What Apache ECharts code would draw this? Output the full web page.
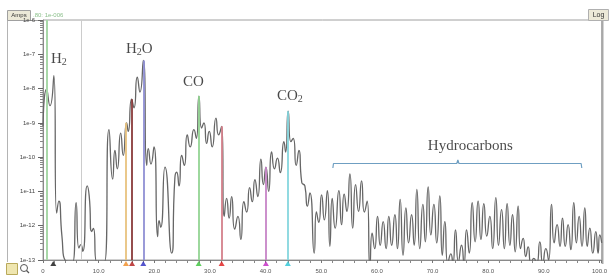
<!DOCTYPE html>
<html>
<head>
<meta charset="utf-8">
<script src="https://cdn.jsdelivr.net/npm/echarts@6/dist/echarts.min.js"></script>
<style>
  html, body { margin: 0; padding: 0; background: #fff; }
  #chart { width: 610px; height: 275px; }
</style>
</head>
<body>
<div id="chart"></div>
<script>
// scan: mass (amu) and log10 of ion current (A)
var scanMass = [
  0, 0.65, 1.25, 1.95, 2.45, 2.85, 3.4, 3.95, 5.35, 5.95, 6.45, 6.8, 7.15, 7.95, 8.3, 8.75, 9.05, 9.65, 11.05, 11.86,
  12.52, 12.93, 13.35, 13.96, 14.42, 15.03, 15.32, 15.93, 16.35, 16.94, 17.42, 18.02, 18.63, 18.92, 19.4, 19.94, 20.6, 20.85, 21.15, 21.92,
  23.12, 23.7, 24.02, 24.45, 24.92, 25.4, 25.92, 26.45, 27.12, 27.55, 28.02, 28.5, 28.92, 29.4, 29.87, 30.4, 31.08, 31.55, 32.1, 32.57,
  33.0, 33.45, 33.9, 34.45, 35.03, 35.55, 36.1, 36.6, 37.13, 37.6, 38.08, 38.6, 39.16, 39.6, 40.06, 40.55, 41.08, 41.6, 42.12, 42.65,
  43.29, 43.6, 44.06, 44.55, 44.96, 45.5, 45.99, 46.5, 47.06, 47.5, 47.96, 48.73, 49.13, 49.55, 50.06, 50.55, 51.1, 51.55, 51.97, 52.5,
  53.17, 53.65, 54.12, 54.6, 55.15, 55.65, 56.17, 56.7, 57.25, 57.75, 58.25, 58.74, 59.15, 59.6, 60.12, 60.6, 61.13, 61.65, 62.15, 62.65,
  63.23, 63.7, 64.18, 64.7, 65.21, 65.7, 66.23, 66.7, 67.18, 67.7, 68.26, 68.7, 69.21, 69.7, 70.24, 70.75, 71.31, 71.75, 72.21, 72.75,
  73.29, 73.65, 74.13, 74.65, 75.21, 75.65, 76.11, 76.6, 77.12, 77.65, 78.19, 78.7, 79.22, 79.75, 80.29, 80.8, 81.37, 81.85, 82.4, 82.9,
  83.4, 83.9, 84.37, 84.85, 85.38, 85.8, 86.28, 86.75, 87.18, 87.7, 88.2, 88.7, 89.28, 89.8, 90.36, 90.85, 91.38, 91.85, 92.38, 92.9,
  93.35, 93.85, 94.36, 94.85, 95.38, 95.85, 96.34, 96.85, 97.36, 97.8, 98.26, 98.8, 99.34, 99.75, 100.05, 100.4
];
var scanExp = [
  -9.1, -8.02, -8.5, -7.62, -11.63, -11.28, -12.3, -13.0, -13.05, -11.33, -12.65, -12.55, -12.75, -10.84, -11.13, -12.17, -12.08, -13.05, -13.05, -9.2,
  -10.64, -9.8, -10.34, -9.3, -9.95, -9.0, -9.25, -8.31, -8.56, -7.67, -8.1, -7.18, -10.24, -9.75, -10.2, -9.7, -12.32, -11.85, -12.05, -10.29,
  -12.8, -10.6, -10.44, -10.84, -9.95, -10.24, -9.35, -9.7, -9.2, -9.45, -8.22, -9.15, -9.0, -9.6, -9.25, -9.7, -8.86, -9.35, -9.1, -11.73,
  -11.2, -11.78, -11.15, -12.1, -11.73, -12.4, -11.3, -11.6, -10.89, -11.3, -10.66, -11.15, -10.06, -10.8, -10.29, -11.0, -9.85, -10.34, -10.03, -10.45,
  -9.55, -9.85, -8.66, -9.55, -9.45, -10.24, -9.8, -10.74, -10.84, -11.43, -11.04, -12.8, -11.6, -11.9, -11.1, -11.83, -10.98, -12.6, -11.2, -12.07,
  -10.98, -11.97, -11.08, -11.58, -10.49, -12.07, -10.8, -11.58, -10.69, -11.6, -11.28, -13.2, -12.22, -12.67, -11.73, -12.57, -11.88, -12.67, -11.73, -12.57,
  -11.68, -12.67, -11.23, -12.86, -11.48, -12.5, -11.68, -12.57, -10.94, -12.67, -11.38, -12.47, -10.87, -12.27, -11.38, -12.5, -11.13, -12.86, -11.88, -13.1,
  -12.82, -13.1, -12.12, -13.05, -12.57, -13.1, -12.12, -12.8, -11.33, -12.47, -11.28, -12.4, -11.36, -12.3, -11.73, -12.67, -11.18, -12.57, -11.53, -12.67,
  -11.36, -12.57, -11.68, -12.76, -11.43, -12.67, -12.37, -12.9, -12.62, -13.1, -12.95, -13.1, -12.47, -13.1, -12.67, -13.0, -11.38, -12.5, -11.97, -12.6,
  -11.78, -12.6, -11.97, -12.7, -11.33, -12.5, -11.73, -12.6, -11.48, -12.6, -12.07, -12.8, -12.17, -12.8, -12.27, -12.5
];

// tracked masses: drop line from the peak to the axis + triangle marker
var markerMass = [14.91, 16.0, 18.02, 27.97, 32.1, 40.06, 44.0];
var markerExp = [-9.0, -8.31, -7.18, -8.22, -9.1, -10.29, -8.66];
var markerLine = ["#e8c27e", "#8a3a3a", "#9090d4", "#93d493", "#d4808b", "#c784c7", "#86d6de"];
var markerTri = ["#f08a20", "#b01818", "#2a2ac0", "#36c236", "#e01818", "#c024c0", "#28c4d4"];

// peak names
var nameText = ["{m|H}{s|2}", "{m|H}{s|2}{m|O}", "CO", "{m|CO}{s|2}", "Hydrocarbons"];
var nameMass = [1.44, 14.91, 25.15, 42.03, 69.16];
var nameExp = [-7.14, -6.85, -7.81, -8.22, -9.675];

var xTickStep = 10;
var axisMinExp = -13;
var axisMaxExp = -6;

var chart = echarts.init(document.getElementById("chart"), null, { renderer: "canvas" });

var serif = "'Liberation Serif', 'Times New Roman', serif";
var sans = "'Liberation Sans', Arial, sans-serif";
var bottom = Math.pow(10, axisMinExp);

var scanData = scanMass.map(function(m, i) {
  return [m, Math.pow(10, scanExp[i])];
});

var dropLines = markerMass.map(function(m, i) {
  return [
    { coord: [m, bottom], lineStyle: { color: markerLine[i], width: 1.8, type: "solid" } },
    { coord: [m, Math.pow(10, markerExp[i])] }
  ];
});
// cursor lines spanning the full height
dropLines.push([
  { coord: [0.72, bottom], lineStyle: { color: "#a8d8a8", width: 2, type: "solid" } },
  { coord: [0.72, Math.pow(10, axisMaxExp)] }
]);
dropLines.push([
  { coord: [6.83, bottom], lineStyle: { color: "#cccccc", width: 1, type: "solid" } },
  { coord: [6.83, Math.pow(10, axisMaxExp)] }
]);

var triData = markerMass.map(function(m, i) {
  return { value: [m, bottom], itemStyle: { color: markerTri[i] } };
});
triData.push({ value: [1.85, bottom], itemStyle: { color: "#111" } });

var nameData = nameMass.map(function(m, i) {
  return { value: [m, Math.pow(10, nameExp[i])], label: { formatter: nameText[i] } };
});

// hydrocarbons bracket
var bracketMass = [52.09, 52.2, 74.35, 74.55, 74.75, 96.7, 96.82];
var bracketExp = [-10.316, -10.185, -10.185, -10.083, -10.185, -10.185, -10.316];
var bracketData = bracketMass.map(function(m, i) {
  return [m, Math.pow(10, bracketExp[i])];
});

var option = {
  animation: false,
  grid: {
    left: 43,
    right: 8,
    top: 20,
    bottom: 15,
    show: true,
    borderColor: "#a0a0a0",
    borderWidth: 1
  },
  xAxis: {
    type: "value",
    min: 0,
    max: 100.4,
    interval: xTickStep,
    axisLine: { lineStyle: { color: "#8a8a8a", width: 1 } },
    axisTick: { length: 3, lineStyle: { color: "#777" } },
    minorTick: { show: true, splitNumber: 5, length: 3, lineStyle: { color: "#888" } },
    splitLine: { show: false },
    axisLabel: {
      fontSize: 6,
      fontFamily: sans,
      color: "#555",
      margin: 8,
      showMaxLabel: false,
      formatter: function(v) {
        return v === 0 ? "0" : v.toFixed(1);
      }
    }
  },
  yAxis: {
    type: "log",
    logBase: 10,
    min: Math.pow(10, axisMinExp),
    max: Math.pow(10, axisMaxExp),
    splitNumber: 7,
    axisLine: { show: true, lineStyle: { color: "#8a8a8a", width: 1 } },
    axisTick: { show: true, length: 5, lineStyle: { color: "#666" } },
    minorTick: { show: true, splitNumber: 9, length: 3, lineStyle: { color: "#888" } },
    splitLine: { show: false },
    axisLabel: {
      fontSize: 6,
      fontFamily: sans,
      color: "#444",
      margin: 8,
      formatter: function(v) {
        return "1e" + Math.round(Math.log(v) / Math.LN10);
      }
    }
  },
  series: [
    {
      name: "scan",
      type: "line",
      data: scanData,
      smooth: 0.65,
      symbol: "none",
      lineStyle: { color: "#666", width: 1.3 },
      z: 3,
      markLine: {
        silent: true,
        symbol: ["none", "none"],
        label: { show: false },
        animation: false,
        data: dropLines
      }
    },
    {
      name: "bracket",
      type: "line",
      data: bracketData,
      symbol: "none",
      lineStyle: { color: "#6f9fc2", width: 1.2 },
      silent: true,
      z: 4
    },
    {
      name: "markers",
      type: "scatter",
      data: triData,
      symbol: "triangle",
      symbolSize: [6, 5],
      symbolOffset: [0, 3.5],
      clip: false,
      silent: true,
      z: 5
    },
    {
      name: "names",
      type: "scatter",
      data: nameData,
      symbolSize: 0,
      silent: true,
      clip: false,
      z: 6,
      label: {
        show: true,
        position: "right",
        distance: 0,
        fontFamily: serif,
        fontSize: 15,
        color: "#1a1a1a",
        rich: {
          m: { fontFamily: serif, fontSize: 15, lineHeight: 16, verticalAlign: "top", color: "#1a1a1a" },
          s: { fontFamily: serif, fontSize: 10, lineHeight: 10, padding: [8, 0, 0, 0], verticalAlign: "bottom", color: "#1a1a1a" }
        }
      }
    }
  ],
  graphic: [
    { type: "line", shape: { x1: 7.5, y1: 20, x2: 7.5, y2: 262 }, style: { stroke: "#b4b4b4", lineWidth: 1 } },
    { type: "line", shape: { x1: 31, y1: 20.5, x2: 43, y2: 20.5 }, style: { stroke: "#a0a0a0", lineWidth: 1 } },
    { type: "line", shape: { x1: 602.5, y1: 20, x2: 602.5, y2: 264 }, style: { stroke: "#a8a8a8", lineWidth: 2 } },
    { type: "rect", shape: { x: 7.5, y: 10.5, width: 23, height: 10 }, style: { fill: "#ece9d8", stroke: "#a0a0a0" } },
    { type: "text", x: 19, y: 15.5, style: { text: "Amps", fontSize: 6, fontFamily: sans, fill: "#333", align: "center", verticalAlign: "middle" } },
    { type: "text", x: 33, y: 15.5, style: { text: ".80: 1e-006", fontSize: 6, fontFamily: sans, fill: "#8cc08c", verticalAlign: "middle" } },
    { type: "rect", shape: { x: 588.5, y: 9.5, width: 20, height: 11 }, style: { fill: "#ece9d8", stroke: "#b0b0b0" } },
    { type: "text", x: 598.5, y: 15, style: { text: "Log", fontSize: 7, fontFamily: sans, fill: "#333", align: "center", verticalAlign: "middle" } },
    { type: "rect", shape: { x: 6.5, y: 263.5, width: 11, height: 11 }, style: { fill: "#efe6b0", stroke: "#b9a95a" } },
    { type: "circle", shape: { cx: 24, cy: 268, r: 3.5 }, style: { fill: "none", stroke: "#555", lineWidth: 1 } },
    { type: "line", shape: { x1: 26.5, y1: 270.5, x2: 29, y2: 273 }, style: { stroke: "#555", lineWidth: 1.2 } }
  ]
};

chart.setOption(option);
</script>
</body>
</html>
